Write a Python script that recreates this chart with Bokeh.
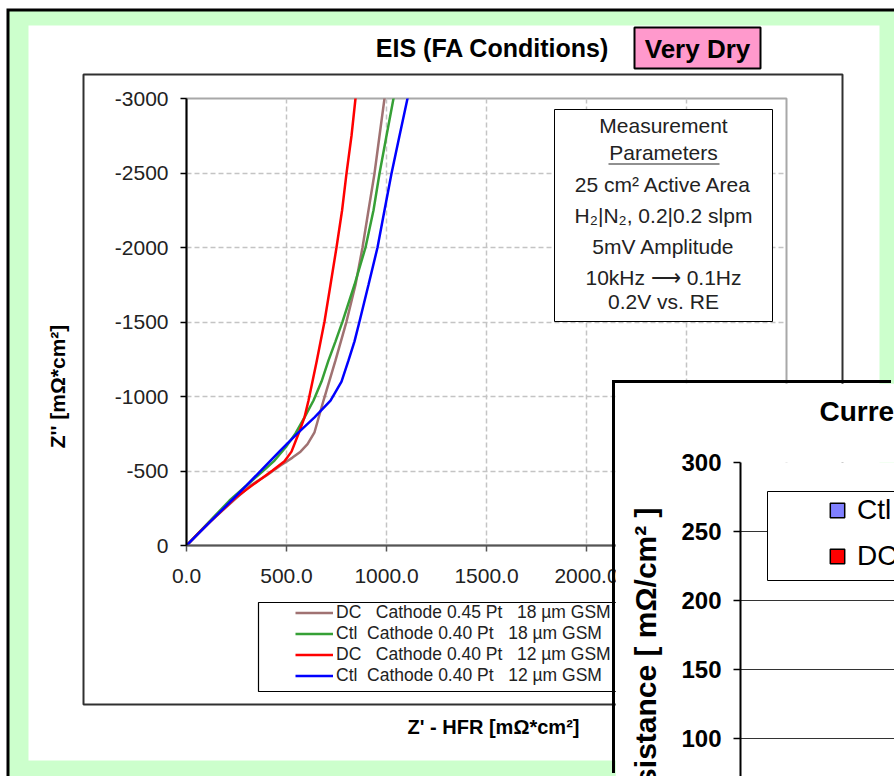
import math
from bokeh.plotting import figure
from bokeh.models import (Range1d, FixedTicker, NumeralTickFormatter, Legend, LegendItem,
                          Label, BoxAnnotation, ColumnDataSource)
from bokeh.embed import file_html
from bokeh.resources import INLINE

# ---------------- data ----------------
x_ticks = [0, 500, 1000, 1500, 2000, 2500, 3000]
y_ticks = [0, -500, -1000, -1500, -2000, -2500, -3000]

series_labels = [
    "DC\u00a0\u00a0\u00a0Cathode 0.45 Pt\u00a0\u00a0\u00a018 \u00b5m GSM",
    "Ctl\u00a0\u00a0Cathode 0.40 Pt\u00a0\u00a0\u00a018 \u00b5m GSM",
    "DC\u00a0\u00a0\u00a0Cathode 0.40 Pt\u00a0\u00a0\u00a012 \u00b5m GSM",
    "Ctl\u00a0\u00a0Cathode 0.40 Pt\u00a0\u00a0\u00a012 \u00b5m GSM",
]
series_colors = ["#a07272", "#36a036", "#ff0000", "#0000ff"]

dc45_x = [0, 125, 235, 320, 400, 470, 530, 570, 605, 640, 685, 745, 800, 845, 880, 910, 940, 965, 990, 1010]
dc45_y = [0, -168, -302, -403, -470, -537, -590, -630, -680, -760, -973, -1242, -1503, -1750, -2000, -2250, -2497, -2750, -3000, -3200]

ctl18_x = [0, 120, 215, 300, 385, 440, 495, 545, 590, 635, 675, 710, 745, 780, 840, 895, 935, 965, 1000, 1035, 1060]
ctl18_y = [0, -168, -302, -403, -503, -570, -658, -752, -860, -973, -1100, -1242, -1370, -1503, -1750, -2000, -2250, -2497, -2750, -3000, -3200]

dc12_x = [0, 65, 150, 245, 345, 430, 490, 525, 560, 590, 610, 650, 690, 720, 750, 778, 800, 825, 845, 860]
dc12_y = [0, -90, -200, -320, -420, -503, -565, -630, -750, -860, -973, -1230, -1503, -1750, -2000, -2250, -2497, -2750, -3000, -3200]

ctl12_x = [0, 125, 225, 300, 372, 470, 555, 640, 720, 775, 810, 840, 865, 910, 955, 990, 1025, 1065, 1105, 1130]
ctl12_y = [0, -168, -302, -403, -503, -638, -752, -860, -973, -1100, -1242, -1370, -1503, -1750, -2000, -2250, -2497, -2750, -3000, -3200]

params_lines = ["Measurement", "Parameters", "25 cm\u00b2 Active Area",
                "H\u2082|N\u2082, 0.2|0.2 slpm", "5mV Amplitude",
                "10kHz \u27f6 0.1Hz", "0.2V vs. RE"]

ci_labels = ["Ctl", "DC"]
ci_colors = ["#8080ff", "#ff0000"]
ci_ticks = [100, 150, 200, 250, 300]

FONT = "Liberation Sans"
NAN = float("nan")

# ============ background figure (page frame, titles, legend) ============
p0 = figure(width=894, height=776, output_backend="svg", toolbar_location=None, title=None,
            x_range=Range1d(0, 894), y_range=Range1d(776, 0),
            x_axis_location=None, y_axis_location=None, min_border=0)
p0.outline_line_color = None
p0.background_fill_color = "white"
p0.border_fill_color = "white"
p0.grid.visible = False


def box0(l, t, r, b, **kw):
    kw.setdefault("fill_alpha", 1)
    kw.setdefault("line_color", None)
    kw.setdefault("level", "underlay")
    return BoxAnnotation(left=l, right=r, top=t, bottom=b, **kw)


p0.add_layout(box0(6, 8, 900, 800, fill_color="black"))
p0.add_layout(box0(9, 11, 900, 800, fill_color="#ccffcc"))
p0.add_layout(box0(28, 25, 879, 760, fill_color="white"))
p0.add_layout(box0(83, 74, 842, 704, fill_color="white", line_color="#303030", line_alpha=1,
                   line_width=2, line_dash="solid"))
p0.add_layout(box0(634, 27, 760, 68, fill_color="#ff99cc", line_color="black", line_alpha=1,
                   line_width=2, line_dash="solid"))
# legend frame
p0.add_layout(box0(258, 602, 760, 691, fill_color="white", line_color="black", line_alpha=1,
                   line_width=1.2, line_dash="solid"))


def lab0(x, y, text, size, bold=True, **kw):
    return Label(x=x, y=y, text=text, text_font=FONT, text_font_size=size,
                 text_font_style="bold" if bold else "normal", text_align="center",
                 text_baseline="middle", text_color="black", **kw)


p0.add_layout(lab0(492, 47, "EIS (FA Conditions)", "25px"))
p0.add_layout(lab0(697, 48, "Very Dry", "26px"))
p0.add_layout(lab0(493, 726, "Z' - HFR [m\u03a9*cm\u00b2]", "20px"))
p0.add_layout(lab0(57, 386, "Z'' [m\u03a9*cm\u00b2]", "21px", angle=math.pi / 2))

legend_renderers = []
for col in series_colors:
    legend_renderers.append(p0.line(x=[NAN, NAN], y=[NAN, NAN], line_color=col, line_width=2.5))
leg = Legend(items=[LegendItem(label=lab, renderers=[r]) for lab, r in zip(series_labels, legend_renderers)],
             location=(295, 90), border_line_color=None, background_fill_alpha=0,
             label_text_font=FONT, label_text_font_size="17.5px", label_text_color="#222222",
             glyph_width=38, glyph_height=21, label_height=21, label_standoff=3,
             spacing=0, padding=0, margin=0)
p0.add_layout(leg)

# ============ EIS Nyquist figure ============
p1 = figure(width=894, height=776, output_backend="svg", toolbar_location=None, title=None,
            x_range=Range1d(0, 3000), y_range=Range1d(0, -3000),
            min_border_left=186, min_border_right=108, min_border_top=98, min_border_bottom=231)
p1.background_fill_alpha = 0
p1.border_fill_alpha = 0
p1.outline_line_color = "#a8a8a8"
p1.outline_line_width = 2
p1.styles = {"position": "absolute", "left": "0px", "top": "0px"}

p1.xaxis.ticker = FixedTicker(ticks=x_ticks)
p1.yaxis.ticker = FixedTicker(ticks=y_ticks)
p1.xaxis.formatter = NumeralTickFormatter(format="0.0")
p1.yaxis.formatter = NumeralTickFormatter(format="0")
for ax in (p1.xaxis[0], p1.yaxis[0]):
    ax.major_label_text_font = FONT
    ax.major_label_text_font_size = "21px"
    ax.major_label_text_color = "#222222"
    ax.major_tick_in = 0
    ax.major_tick_out = 6
    ax.minor_tick_in = 0
    ax.minor_tick_out = 0
    ax.major_tick_line_width = 1.5
    ax.axis_line_width = 2
p1.xaxis.major_label_standoff = 17
p1.yaxis.major_label_standoff = 12
p1.xaxis.axis_line_color = "#555555"
p1.xaxis.major_tick_line_color = "#555555"
p1.yaxis.axis_line_color = "black"
p1.yaxis.major_tick_line_color = "black"

p1.grid.grid_line_color = "#c4c4c4"
p1.grid.grid_line_dash = "5 3"
p1.grid.grid_line_width = 1.5

series_x = [dc45_x, ctl18_x, dc12_x, ctl12_x]
series_y = [dc45_y, ctl18_y, dc12_y, ctl12_y]
for col, xs, ys in zip(series_colors, series_x, series_y):
    p1.line(xs, ys, line_color=col, line_width=2.5)


def X1(px):
    return (px - 186) * 5.0


def Y1(py):
    return (py - 545) * 3000.0 / 447


p1.add_layout(BoxAnnotation(left=X1(554), right=X1(772), top=Y1(109), bottom=Y1(321),
                            fill_color="white", fill_alpha=1, line_color="black", line_alpha=1,
                            line_width=1, line_dash="solid", level="annotation"))
line_y = [125, 152, 184, 215, 246, 277, 301]
for txt, yy in zip(params_lines, line_y):
    p1.add_layout(Label(x=X1(663), y=Y1(yy), text=txt, text_font=FONT, text_font_size="21px",
                        text_align="center", text_baseline="middle", text_color="#222222"))
p1.add_layout(BoxAnnotation(left=X1(608), right=X1(719), top=Y1(163), bottom=Y1(164),
                            fill_color="#222222", fill_alpha=1, line_color=None, level="annotation"))

# ============ overlaid resistance bar chart ============
p2 = figure(width=279, height=393, output_backend="svg", toolbar_location=None,
            x_range=Range1d(0, 154), y_range=Range1d(300 - 314 * 50.0 / 69, 300),
            x_axis_location=None,
            min_border_left=125, min_border_right=0, min_border_top=79, min_border_bottom=0)
p2.styles = {"position": "absolute", "left": "615px", "top": "383px",
             "box-shadow": "-3px -3px 0px 0px black"}
p2.background_fill_color = "white"
p2.border_fill_color = "white"
p2.outline_line_color = None
p2.xgrid.visible = False
p2.ygrid.grid_line_color = "#333333"
p2.ygrid.grid_line_width = 1
p2.yaxis.ticker = FixedTicker(ticks=ci_ticks)
p2.yaxis.major_label_text_font = FONT
p2.yaxis.major_label_text_font_size = "24px"
p2.yaxis.major_label_text_font_style = "bold"
p2.yaxis.major_label_text_color = "black"
p2.yaxis.axis_line_color = "black"
p2.yaxis.axis_line_width = 2
p2.yaxis.major_tick_in = 0
p2.yaxis.major_tick_out = 7
p2.yaxis.minor_tick_out = 0
p2.yaxis.major_tick_line_width = 1.5
p2.yaxis.major_label_standoff = 12
p2.yaxis.axis_label = "Resistance [ m\u03a9/cm\u00b2 ]" + "\u00a0" * 11
p2.yaxis.axis_label_text_font = FONT
p2.yaxis.axis_label_text_font_size = "30px"
p2.yaxis.axis_label_text_font_style = "bold"
p2.yaxis.axis_label_text_color = "black"
p2.yaxis.axis_label_standoff = 16

p2.title.text = "Current Interrupt HFR\n\u00a0"
p2.title.align = "left"
p2.title.offset = 79
p2.title.standoff = 10
p2.title.text_font = FONT
p2.title.text_font_size = "28px"
p2.title.text_font_style = "bold"
p2.title.text_color = "black"


def Y2(py):
    return 300 - (py - 462) * 50.0 / 69


p2.add_layout(BoxAnnotation(left=767 - 740, right=400, top=Y2(491), bottom=Y2(580),
                            fill_color="white", fill_alpha=1, line_color="black", line_alpha=1,
                            line_width=1, line_dash="solid", level="annotation"))
ci_items = []
for lab, col in zip(ci_labels, ci_colors):
    src = ColumnDataSource(data=dict(x=[NAN], top=[NAN]))
    r = p2.vbar(x="x", top="top", width=0.5, source=src, fill_color=col, line_color="black",
                line_width=1.5)
    ci_items.append(LegendItem(label=lab, renderers=[r]))
leg2 = Legend(items=ci_items, location=(88, 204), border_line_color=None,
              background_fill_alpha=0, label_text_font=FONT, label_text_font_size="28px",
              label_text_color="black", glyph_width=18, glyph_height=18, label_height=30,
              label_standoff=11, spacing=14, padding=0, margin=0)
p2.add_layout(leg2)

open("out.html", "w").write(file_html([p0, p1, p2], INLINE))
